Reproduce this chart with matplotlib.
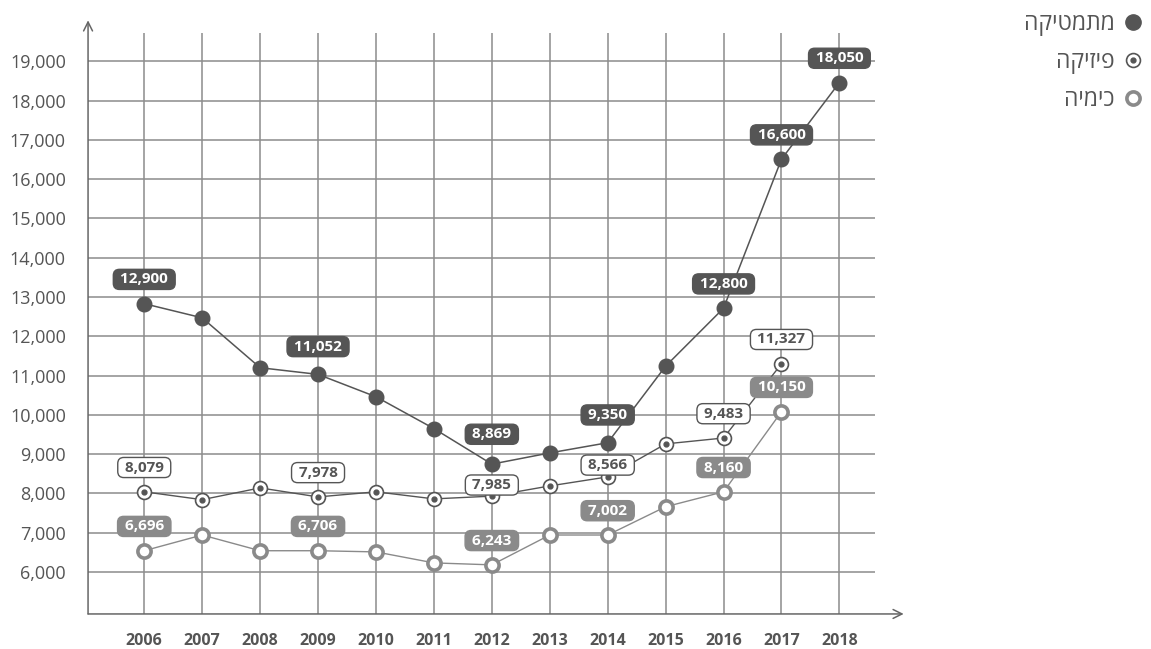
import matplotlib
matplotlib.use('Agg')
import matplotlib.pyplot as plt
from matplotlib.lines import Line2D

plt.rcParams['font.family'] = ['Open Sans', 'DejaVu Sans']

years = [2006, 2007, 2008, 2009, 2010, 2011, 2012, 2013, 2014, 2015, 2016, 2017, 2018]

math_vals = [12830, 12470, 11200, 11030, 10460, 9650, 8745, 9030, 9290, 11240, 12715, 16510, 18460]
phys_vals = [8040, 7840, 8140, 7910, 8040, 7860, 7930, 8190, 8420, 9260, 9410, 11300]
chem_vals = [6540, 6940, 6540, 6540, 6510, 6230, 6180, 6940, 6940, 7660, 8040, 10080]

# printed value labels (year -> text)
math_labels = {2006: '12,900', 2009: '11,052', 2012: '8,869', 2014: '9,350',
               2016: '12,800', 2017: '16,600', 2018: '18,050'}
phys_labels = {2006: '8,079', 2009: '7,978', 2012: '7,985', 2014: '8,566',
               2016: '9,483', 2017: '11,327'}
chem_labels = {2006: '6,696', 2009: '6,706', 2012: '6,243', 2014: '7,002',
               2016: '8,160', 2017: '10,150'}

series_names = ['מתמטיקה', 'פיזיקה', 'כימיה']
yticks = list(range(6000, 19001, 1000))

# vertical offset (in points) of a few labels that sit off the usual spot
label_shift = {('math', 2009): 20, ('math', 2012): 21.5, ('math', 2014): 20,
               ('phys', 2012): 8, ('phys', 2014): 8.5}

DARK = '#555555'
MID = '#8a8a8a'
GRID = '#8c8c8c'

fig = plt.figure(figsize=(11.51, 6.49), dpi=100)
ax = fig.add_axes([0.0765, 0.054, 0.684, 0.895])
ax.set_xlim(2005.03, 2018.62)
ax.set_ylim(4930, 19720)

for s in ax.spines.values():
    s.set_visible(False)

ax.set_xticks(years)
ax.set_xticklabels([str(y) for y in years], fontsize=11.5, fontweight='bold', color=DARK)
ax.set_yticks(yticks)
ax.set_yticklabels(['{:,}'.format(v) for v in yticks], fontsize=13, color=DARK)
ax.tick_params(axis='x', length=0, pad=13.5)
ax.tick_params(axis='y', length=0, pad=16)

for y in yticks:
    ax.axhline(y, color=GRID, lw=1.1, zorder=1)
for x in years:
    ax.axvline(x, color=GRID, lw=1.1, zorder=1)

# axes with open arrow heads
ax.annotate('', xy=(0, 1.022), xytext=(0, 0), xycoords='axes fraction',
            arrowprops=dict(arrowstyle='->', color='#666666', lw=1.1,
                            shrinkA=0, shrinkB=0, mutation_scale=16), annotation_clip=False)
ax.annotate('', xy=(1.036, 0), xytext=(0, 0), xycoords='axes fraction',
            arrowprops=dict(arrowstyle='->', color='#666666', lw=1.1,
                            shrinkA=0, shrinkB=0, mutation_scale=16), annotation_clip=False)

n = len(phys_vals)
ax.plot(years, math_vals, color=DARK, lw=1.1, marker='o', ms=10.5,
        mfc=DARK, mec=DARK, zorder=4)
ax.plot(years[:n], phys_vals, color=DARK, lw=1.0, marker='o', ms=10,
        mfc='white', mec=DARK, mew=1.2, zorder=4)
ax.plot(years[:n], phys_vals, ls='none', marker='o', ms=3.5, color=DARK, zorder=5)
ax.plot(years[:len(chem_vals)], chem_vals, color=MID, lw=1.0, marker='o', ms=9.5,
        mfc='white', mec=MID, mew=2.6, zorder=4)


def put_labels(key, vals, labels, fc, ec, tc):
    for yr, txt in labels.items():
        v = vals[years.index(yr)]
        dy = label_shift.get((key, yr), 17.5)
        ax.annotate(' ' + txt + ' ', xy=(yr, v), xytext=(0, dy), textcoords='offset points',
                    ha='center', va='center', fontsize=11, fontweight='bold', color=tc,
                    bbox=dict(boxstyle='round,pad=0.2,rounding_size=0.4', fc=fc, ec=ec, lw=1),
                    zorder=6)


put_labels('math', math_vals, math_labels, DARK, DARK, 'white')
put_labels('phys', phys_vals, phys_labels, 'white', DARK, DARK)
put_labels('chem', chem_vals, chem_labels, MID, MID, 'white')

handles = [
    Line2D([], [], ls='none', marker='o', ms=11, mfc=DARK, mec=DARK),
    (Line2D([], [], ls='none', marker='o', ms=10, mfc='white', mec=DARK, mew=1.2),
     Line2D([], [], ls='none', marker='o', ms=3.5, color=DARK)),
    Line2D([], [], ls='none', marker='o', ms=9.5, mfc='white', mec=MID, mew=2.6),
]
# matplotlib has no bidi support: reverse Hebrew strings so they read correctly
fig.legend(handles, [s[::-1] for s in series_names], loc='upper right',
           bbox_to_anchor=(1.0125, 1.014), frameon=False, markerfirst=False,
           fontsize=16.5, labelcolor=DARK, handlelength=1.0, handletextpad=0.3,
           labelspacing=0.62)

plt.savefig('out.png', dpi=100)
